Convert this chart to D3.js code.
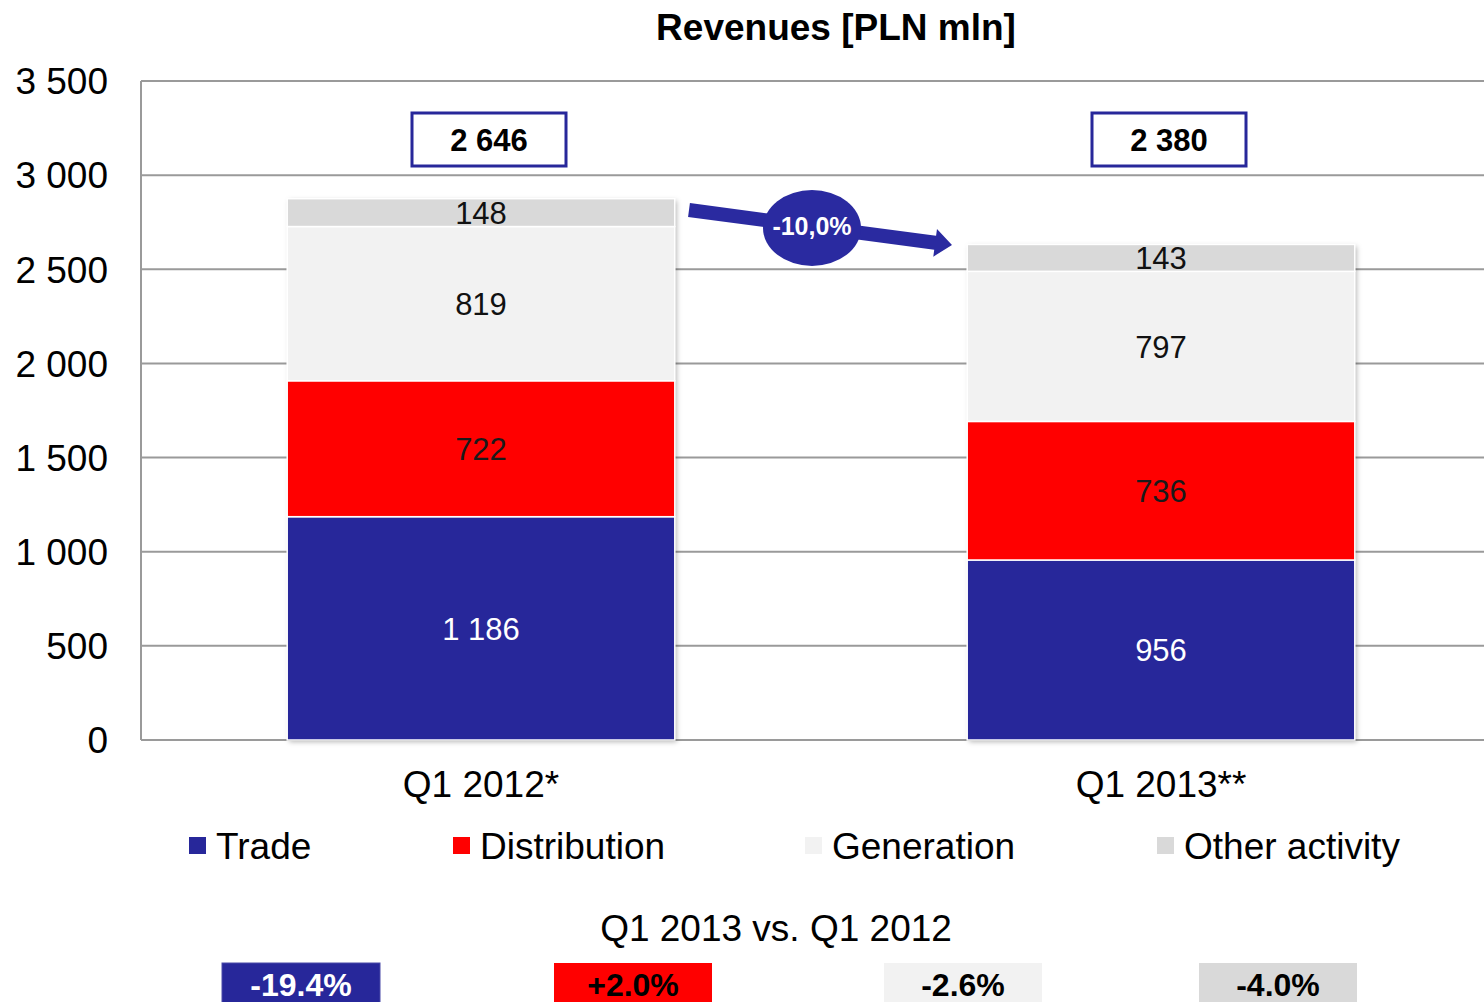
<!DOCTYPE html>
<html>
<head>
<meta charset="utf-8">
<script src="https://cdn.jsdelivr.net/npm/d3@7"></script>
<style>
  body { margin: 0; background: #fff; }
  svg { font-family: "Liberation Sans", Arial, sans-serif; display: block; }
</style>
</head>
<body>
<div id="chart"></div>
<script>
// Chart data
const categories = ["Q1 2012*", "Q1 2013**"];
const seriesNames = ["Trade", "Distribution", "Generation", "Other activity"];
const trade = [1186, 956];
const distribution = [722, 736];
const generation = [819, 797];
const other = [148, 143];
const totals = ["2 646", "2 380"];
const changeLabels = ["-19.4%", "+2.0%", "-2.6%", "-4.0%"];
const totalChange = "-10,0%";
const yTicks = [0, 500, 1000, 1500, 2000, 2500, 3000, 3500];

const colors = ["#27279a", "#ff0000", "#f2f2f2", "#d9d9d9"];
const labelColors = ["#ffffff", "#1a1a1a", "#111111", "#111111"];

const W = 1484, H = 1002;
const margin = { top: 81, left: 141, bottom: 262 };

const svg = d3.select("#chart").append("svg")
  .attr("width", W)
  .attr("height", H);

const defs = svg.append("defs");
const shadow = defs.append("filter").attr("id", "shadow")
  .attr("x", "-5%").attr("y", "-5%").attr("width", "110%").attr("height", "110%");
shadow.append("feDropShadow")
  .attr("dx", 2).attr("dy", 2).attr("stdDeviation", 2.5)
  .attr("flood-color", "#000").attr("flood-opacity", 0.28);

// Scales
const x = d3.scaleBand()
  .domain(categories)
  .range([margin.left, 1501])
  .paddingInner(0.43)
  .paddingOuter(0.215);

const y = d3.scaleLinear()
  .domain([0, 3500])
  .range([740, margin.top]);

// Gridlines
svg.append("g")
  .selectAll("line")
  .data(yTicks)
  .enter().append("line")
  .attr("x1", margin.left).attr("x2", W)
  .attr("y1", d => y(d)).attr("y2", d => y(d))
  .attr("stroke", "#9a9a9a")
  .attr("stroke-width", 2);

// Left axis line
svg.append("line")
  .attr("x1", margin.left).attr("x2", margin.left)
  .attr("y1", y(3500)).attr("y2", y(0))
  .attr("stroke", "#9a9a9a")
  .attr("stroke-width", 2);

// Y tick labels
svg.append("g")
  .selectAll("text")
  .data(yTicks)
  .enter().append("text")
  .attr("x", 108)
  .attr("y", d => y(d))
  .attr("dy", "0.36em")
  .attr("text-anchor", "end")
  .style("font-size", "37px")
  .attr("fill", "#000")
  .text(d => d3.format(",")(d).replace(",", " "));

// Stack data
const rows = categories.map((c, i) => ({
  cat: c,
  Trade: trade[i],
  Distribution: distribution[i],
  Generation: generation[i],
  "Other activity": other[i]
}));
const stacked = d3.stack().keys(seriesNames)(rows);

// Bars
const barG = svg.append("g");
// shadow layer per bar
barG.selectAll(".bar-shadow")
  .data(rows)
  .enter().append("rect")
  .attr("class", "bar-shadow")
  .attr("x", d => x(d.cat))
  .attr("width", x.bandwidth())
  .attr("y", (d, i) => y(stacked[3][i][1]))
  .attr("height", (d, i) => y(0) - y(stacked[3][i][1]))
  .attr("fill", "#fff")
  .attr("filter", "url(#shadow)");

stacked.forEach((layer, si) => {
  barG.selectAll(".seg" + si)
    .data(layer)
    .enter().append("rect")
    .attr("x", d => x(d.data.cat))
    .attr("width", x.bandwidth())
    .attr("y", d => y(d[1]))
    .attr("height", d => y(d[0]) - y(d[1]))
    .attr("fill", colors[si])
    .attr("stroke", "#ffffff")
    .attr("stroke-width", 1.5);

  barG.selectAll(".lab" + si)
    .data(layer)
    .enter().append("text")
    .attr("x", d => x(d.data.cat) + x.bandwidth() / 2)
    .attr("y", d => (y(d[0]) + y(d[1])) / 2)
    .attr("dy", "0.36em")
    .attr("text-anchor", "middle")
    .style("font-size", "31px")
    .attr("fill", labelColors[si])
    .text(d => d3.format(",")(d[1] - d[0]).replace(",", " "));
});

// Total boxes (sit slightly right of the bar centres)
const totG = svg.append("g");
categories.forEach((c, i) => {
  const cx = x(c) + x.bandwidth() / 2 + 8;
  totG.append("rect")
    .attr("x", cx - 77).attr("y", 113)
    .attr("width", 154).attr("height", 53)
    .attr("fill", "#fff")
    .attr("stroke", "#27279a")
    .attr("stroke-width", 3);
  totG.append("text")
    .attr("x", cx).attr("y", 140)
    .attr("dy", "0.36em")
    .attr("text-anchor", "middle")
    .style("font-size", "31px")
    .style("font-weight", "bold")
    .text(totals[i]);
});

// Category labels
svg.append("g")
  .selectAll("text")
  .data(categories)
  .enter().append("text")
  .attr("x", d => x(d) + x.bandwidth() / 2)
  .attr("y", 797)
  .attr("text-anchor", "middle")
  .style("font-size", "37px")
  .text(d => d);

// Title
svg.append("text")
  .attr("x", 836).attr("y", 40)
  .attr("text-anchor", "middle")
  .style("font-size", "37px")
  .style("font-weight", "bold")
  .text("Revenues [PLN mln]");

// Change arrow
const arrowG = svg.append("g");
const ax0 = 689, ay0 = 210, ax1 = 952, ay1 = 245;
const ang = Math.atan2(ay1 - ay0, ax1 - ax0);
const len = Math.hypot(ax1 - ax0, ay1 - ay0);
const headLen = 17, headW = 14, shaftW = 7;
arrowG.append("path")
  .attr("transform", `translate(${ax0},${ay0}) rotate(${ang * 180 / Math.PI})`)
  .attr("d", `M0,${-shaftW} L${len - headLen},${-shaftW} L${len - headLen},${-headW} L${len},0 L${len - headLen},${headW} L${len - headLen},${shaftW} L0,${shaftW} Z`)
  .attr("fill", "#2a2aa0");
arrowG.append("ellipse")
  .attr("cx", 812).attr("cy", 228)
  .attr("rx", 49).attr("ry", 38)
  .attr("fill", "#2a2aa0");
arrowG.append("text")
  .attr("x", 812).attr("y", 226)
  .attr("dy", "0.36em")
  .attr("text-anchor", "middle")
  .style("font-size", "25px")
  .style("font-weight", "bold")
  .attr("fill", "#fff")
  .text(totalChange);

// Legend
const legendX = [189, 453, 805, 1157];
const legend = svg.append("g")
  .selectAll("g")
  .data(seriesNames)
  .enter().append("g")
  .attr("transform", (d, i) => `translate(${legendX[i]},837)`);
legend.append("rect")
  .attr("width", 17).attr("height", 17)
  .attr("fill", (d, i) => colors[i]);
legend.append("text")
  .attr("x", 27).attr("y", 9)
  .attr("dy", "0.36em")
  .style("font-size", "37px")
  .text(d => d);

// Subtitle
svg.append("text")
  .attr("x", 776).attr("y", 941)
  .attr("text-anchor", "middle")
  .style("font-size", "37px")
  .text("Q1 2013 vs. Q1 2012");

// Change boxes
const boxX = [222, 554, 884, 1199];
const boxes = svg.append("g")
  .selectAll("g")
  .data(changeLabels)
  .enter().append("g")
  .attr("transform", (d, i) => `translate(${boxX[i]},963)`);
boxes.append("rect")
  .attr("width", 158).attr("height", 50)
  .attr("fill", (d, i) => colors[i])
  .attr("stroke", (d, i) => i === 0 ? "#4a4aa8" : "none")
  .attr("stroke-width", 1);
boxes.append("text")
  .attr("x", 79).attr("y", 33)
  .attr("text-anchor", "middle")
  .style("font-size", "32px")
  .style("font-weight", "bold")
  .attr("fill", (d, i) => i === 0 ? "#fff" : "#000")
  .text(d => d);
</script>
</body>
</html>
